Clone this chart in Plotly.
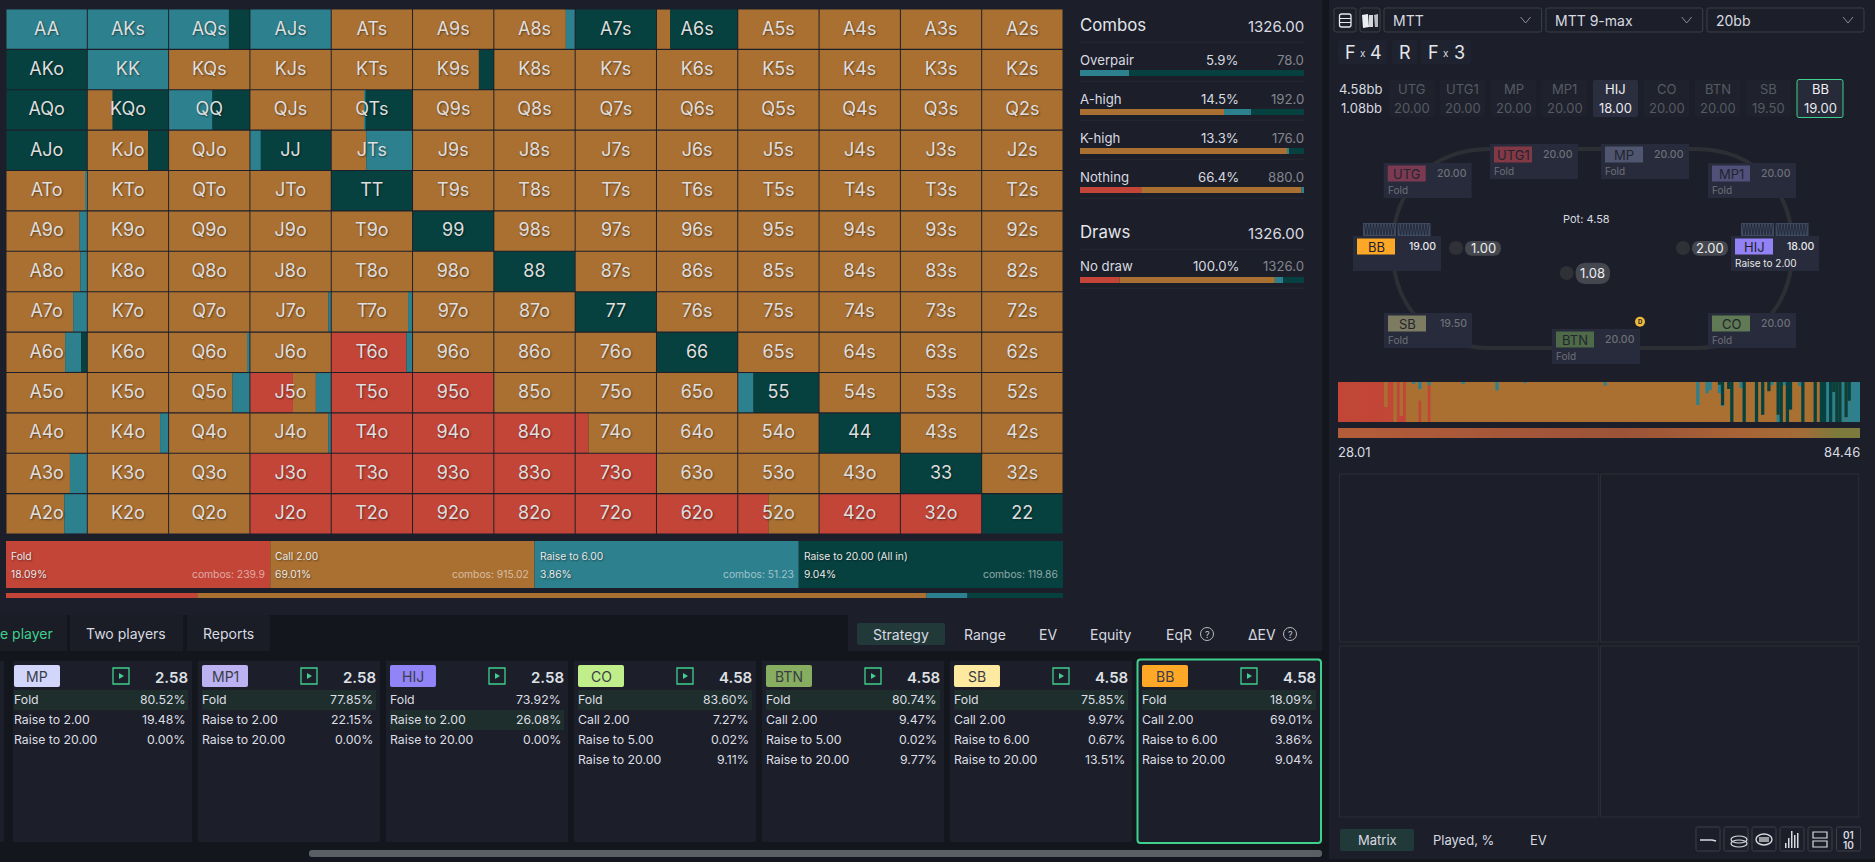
import plotly.graph_objects as go

# ---------- DATA ----------
ranks = ["A", "K", "Q", "J", "T", "9", "8", "7", "6", "5", "4", "3", "2"]
# strategy matrix, percentages per hand (call = remainder)
m_fold = [
    [0,0,0,0,0,0,0,0,0,0,0,0,0],
    [0,0,0,0,0,0,0,0,0,0,0,0,0],
    [0,0,0,0,0,0,0,0,0,0,0,0,0],
    [0,0,0,0,0,0,0,0,0,0,0,0,0],
    [0,0,0,0,0,0,0,0,0,0,0,0,0],
    [0,0,0,0,0,0,0,0,0,0,0,0,0],
    [0,0,0,0,0,0,0,0,0,0,0,0,0],
    [0,0,0,0,0,0,0,0,0,0,0,0,0],
    [0,0,0,0,93,0,0,0,0,0,0,0,0],
    [0,0,0,53,100,100,0,0,0,0,0,0,0],
    [0,0,0,0,100,100,100,16,0,0,0,0,0],
    [0,0,0,100,100,100,100,100,0,0,0,0,0],
    [0,0,0,100,100,100,100,100,100,37.5,100,100,0],
]
m_r6 = [
    [100,100,74.5,100,0,0,11,0,0,0,0,0,0],
    [0,100,0,0,0,0,0,0,0,0,0,0,0],
    [0,0,54,0,1,0,0,0,0,0,0,0,0],
    [0,0,0,13,57,0,0,0,0,0,0,0,0],
    [2,0,0,0,0,0,0,0,0,0,0,0,0],
    [9,0,0,0,0,0,0,0,0,0,0,0,0],
    [8,0,0,0,0,0,0,0,0,0,0,0,0],
    [17,0,0,3,5,0,0,0,0,0,0,0,0],
    [20,0,2,0,7,0,0,0,0,0,0,0,0],
    [0,0,21,18.5,0,0,0,0,0,19,0,0,0],
    [0,10,0,3,0,0,0,0,0,0,0,0,0],
    [21,0,0,0,0,0,0,0,0,0,0,0,0],
    [28,0,0,0,0,0,0,0,0,0,0,0,0],
]
m_r20 = [
    [0,0,25.5,0,0,0,0,100,83.5,0,0,0,0],
    [100,0,0,0,0,18,0,0,0,0,0,0,0],
    [100,69,46,0,58,0,0,0,0,0,0,0,0],
    [100,25,0,87,0,0,0,0,0,0,0,0,0],
    [0,0,0,0,100,0,0,0,0,0,0,0,0],
    [0,0,0,0,0,100,0,0,0,0,0,0,0],
    [0,0,0,0,0,0,100,0,0,0,0,0,0],
    [0,0,0,0,0,0,0,100,0,0,0,0,0],
    [7,0,0,0,0,0,0,0,100,0,0,0,0],
    [0,0,0,0,0,0,0,0,0,81,0,0,0],
    [0,0,0,0,0,0,0,0,0,0,100,0,0],
    [0,0,0,0,0,0,0,0,0,0,0,100,0],
    [0,0,0,0,0,0,0,0,0,0,0,0,100],
]
actions = ["Fold", "Call 2.00", "Raise to 6.00", "Raise to 20.00 (All in)"]
action_pct = [18.09, 69.01, 3.86, 9.04]
action_combos = ["239.9", "915.02", "51.23", "119.86"]
tile_share = [1, 1, 1, 1]

combo_labels = ["Overpair", "A-high", "K-high", "Nothing", "No draw"]
combo_pct = ["5.9%", "14.5%", "13.3%", "66.4%", "100.0%"]
combo_cnt = ["78.0", "192.0", "176.0", "880.0", "1326.0"]
combo_fold = [0, 0, 0, 27.3, 17.7]
combo_call = [0, 64.3, 92.4, 71.6, 69.3]
combo_r6 = [22, 12.1, 0.9, 1.1, 3.7]
combo_r20 = [78, 23.6, 6.7, 0, 9.3]

# sorted hands strip (169 hands), percentages (call = remainder)
strip_fold = [
    100,100,100,100,100,100,100,100,100,100,100,100,100,
    100,100,37.5,100,100,0,100,16,100,0,0,0,0,
    54,0,0,92,0,0,0,0,0,0,0,0,0,
    0,0,0,0,0,0,0,0,0,0,0,0,0,
    0,0,0,0,0,0,0,0,0,0,0,0,0,
    0,0,0,0,0,0,0,0,0,0,0,0,0,
    0,0,0,0,0,0,0,0,0,0,0,0,0,
    0,0,0,0,0,0,0,0,0,0,0,0,0,
    0,0,0,0,0,0,0,0,0,0,0,0,0,
    0,0,0,0,0,0,0,0,0,0,0,0,0,
    0,0,0,0,0,0,0,0,0,0,0,0,0,
    0,0,0,0,0,0,0,0,0,0,0,0,0,
    0,0,0,0,0,0,0,0,0,0,0,0,0,
]
strip_r6 = [
    0,0,0,0,0,0,0,0,0,0,0,0,0,
    0,0,0,0,0,0,0,0,0,0,0,3,0,
    17.5,0,0,8,0,0,0,0,0,0,0,0,0,
    0,3,0,0,0,0,0,0,0,0,0,0,21,
    0,0,0,0,0,0,0,0,2,0,0,0,0,
    0,0,0,0,0,0,0,0,0,0,0,0,0,
    0,0,0,0,0,0,0,0,9,0,0,0,0,
    0,0,0,0,0,0,0,0,0,0,0,0,0,
    0,0,0,0,0,0,0,0,0,0,0,0,57.5,
    0,0,28,20,0,0,21,2,0,0,0,0,0,
    15,0,0,0,0,0,0,0,0,0,8,0,18,
    0,8,0,0,0,0,10,0,0,0,0,0,0,
    0,0,100,0,75,0,0,100,12,53,100,100,100,
]
strip_r20 = [
    0,0,0,0,0,0,0,0,0,0,0,0,0,
    0,0,0,0,0,0,0,0,0,0,0,0,0,
    0,0,0,0,0,0,0,0,0,0,0,0,0,
    0,0,0,0,0,0,0,0,0,0,0,0,0,
    0,0,0,0,0,0,0,0,0,0,0,0,0,
    0,0,0,0,0,0,0,0,0,0,0,0,0,
    0,0,0,0,0,0,0,0,0,0,0,0,0,
    0,0,0,0,0,0,0,0,0,0,0,0,0,
    0,0,0,0,0,0,0,0,0,0,0,0,0,
    0,0,0,0,0,0,7,58,0,17.5,100,0,0,
    0,100,0,0,0,100,0,82,0,23,0,0,82,
    100,0,100,69,0,0,0,100,0,0,0,100,0,
    100,100,0,100,25,100,100,0,88,47,0,0,0,
]
gradient_z = [28.01, 33.66, 39.3, 44.95, 50.6, 56.24, 61.89, 67.53, 73.18, 78.82, 84.46]

cards = ["MP", "MP1", "HIJ", "CO", "BTN", "SB", "BB"]
card_pots = ["2.58", "2.58", "2.58", "4.58", "4.58", "4.58", "4.58"]
card_actions = [
    ["Fold", "Raise to 2.00", "Raise to 20.00"],
    ["Fold", "Raise to 2.00", "Raise to 20.00"],
    ["Fold", "Raise to 2.00", "Raise to 20.00"],
    ["Fold", "Call 2.00", "Raise to 5.00", "Raise to 20.00"],
    ["Fold", "Call 2.00", "Raise to 5.00", "Raise to 20.00"],
    ["Fold", "Call 2.00", "Raise to 6.00", "Raise to 20.00"],
    ["Fold", "Call 2.00", "Raise to 6.00", "Raise to 20.00"],
]
card_values = [
    ["80.52%", "19.48%", "0.00%"],
    ["77.85%", "22.15%", "0.00%"],
    ["73.92%", "26.08%", "0.00%"],
    ["83.60%", "7.27%", "0.02%", "9.11%"],
    ["80.74%", "9.47%", "0.02%", "9.77%"],
    ["75.85%", "9.97%", "0.67%", "13.51%"],
    ["18.09%", "69.01%", "3.86%", "9.04%"],
]
stack_seats = ["UTG", "UTG1", "MP", "MP1", "HIJ", "CO", "BTN", "SB", "BB"]
stack_values = ["20.00", "20.00", "20.00", "20.00", "18.00", "20.00", "20.00", "19.50", "19.00"]

# ---------- STYLE ----------
W, H = 1875, 862
FONT = "Inter"
BG = "#1c1f2a"
DARK = "#14161e"
RED, ORANGE, TEAL, DEEP = "#c24538", "#aa7032", "#2d808d", "#07413f"
ACTION_COLORS = [RED, ORANGE, TEAL, DEEP]
GREEN = "#3fd08e"
SHADOW = "1px 1px 2px rgba(0,0,0,0.45)"
fig = go.Figure()
shapes, annots, axes = [], [], {}


def X(x):
    return x / W


def Y(y):
    return 1 - y / H


def rect(x0, y0, x1, y1, fill=None, line=None, lw=1, layer="below"):
    shapes.append(dict(type="rect", xref="paper", yref="paper", x0=X(x0), x1=X(x1), y0=Y(y0), y1=Y(y1),
                       fillcolor=fill or "rgba(0,0,0,0)",
                       line=dict(color=line or "rgba(0,0,0,0)", width=lw if line else 0), layer=layer))


def path(points, line=None, lw=1, fill=None, layer="below"):
    parts = []
    for p in points:
        if isinstance(p, str):
            parts.append(p)
        else:
            parts.append(f"{X(p[0]):.5f},{Y(p[1]):.5f}")
    shapes.append(dict(type="path", xref="paper", yref="paper", path=" ".join(parts),
                       fillcolor=fill or "rgba(0,0,0,0)",
                       line=dict(color=line or "rgba(0,0,0,0)", width=lw if line else 0), layer=layer))


def rrect(x0, y0, x1, y1, r, fill=None, line=None, lw=1, layer="below"):
    path(["M", (x0 + r, y0), "L", (x1 - r, y0), "Q", (x1, y0), (x1, y0 + r), "L", (x1, y1 - r), "Q", (x1, y1),
          (x1 - r, y1), "L", (x0 + r, y1), "Q", (x0, y1), (x0, y1 - r), "L", (x0, y0 + r), "Q", (x0, y0),
          (x0 + r, y0), "Z"], line=line, lw=lw, fill=fill, layer=layer)


def circle(cx, cy, r, fill=None, line=None, lw=1, layer="below"):
    shapes.append(dict(type="circle", xref="paper", yref="paper", x0=X(cx - r), x1=X(cx + r), y0=Y(cy - r),
                       y1=Y(cy + r), fillcolor=fill or "rgba(0,0,0,0)",
                       line=dict(color=line or "rgba(0,0,0,0)", width=lw if line else 0), layer=layer))


def text(x, y, s, size=12, color="#d8dae0", anchor="left", weight=400, shadow=None):
    f = dict(family=FONT, size=size, color=color, weight=weight)
    if shadow:
        f["shadow"] = shadow
    annots.append(dict(xref="paper", yref="paper", x=X(x), y=Y(y), text=s, showarrow=False, xanchor=anchor,
                       yanchor="middle", font=f, borderpad=0, borderwidth=0))


def panel_axes(n, x0, y0, x1, y1, xr, yr):
    sfx = "" if n == 1 else str(n)
    axes[f"xaxis{sfx}"] = dict(domain=[X(x0), X(x1)], range=xr, visible=False, fixedrange=True, anchor=f"y{sfx}")
    axes[f"yaxis{sfx}"] = dict(domain=[Y(y1), Y(y0)], range=yr, visible=False, fixedrange=True, anchor=f"x{sfx}")
    return f"x{sfx}", f"y{sfx}"


def hbars(xa, ya, rows, bases, widths, colors, thick=1.0):
    fig.add_trace(go.Bar(orientation="h", x=widths, y=rows, base=bases, width=thick, xaxis=xa, yaxis=ya,
                         marker=dict(color=colors, line=dict(width=0)), hoverinfo="skip", showlegend=False))


# ---------- BACKGROUND BLOCKS ----------
rect(0, 615, 1322, 862, DARK)
rect(1322, 0, 1329, 862, DARK)
rect(1329, 859, 1875, 862, DARK)
rect(0, 615, 67, 651, "#1a1d26")
rect(70, 615, 183, 651, "#1a1d26")
rect(187, 615, 270, 651, "#1a1d26")
rect(848, 615, 1322, 651, BG)

# ---------- MATRIX ----------
xa, ya = panel_axes(1, 6, 9, 1063, 534, [0, 13], [12.5, -0.5])
INSET = 0.006
seg_y, seg_base, seg_w, seg_c = [], [], [], []
labels, lab_x, lab_y = [], [], []
for r in range(13):
    for c in range(13):
        call = 100 - m_fold[r][c] - m_r6[r][c] - m_r20[r][c]
        cum = 0.0
        for val, col in zip([m_fold[r][c], call, m_r6[r][c], m_r20[r][c]], ACTION_COLORS):
            if val > 0:
                seg_y.append(r)
                seg_base.append(c + INSET + cum / 100 * (1 - 2 * INSET))
                seg_w.append(val / 100 * (1 - 2 * INSET))
                seg_c.append(col)
                cum += val
        if r == c:
            labels.append(ranks[r] * 2)
        elif c > r:
            labels.append(ranks[r] + ranks[c] + "s")
        else:
            labels.append(ranks[c] + ranks[r] + "o")
        lab_x.append(c + 0.5)
        lab_y.append(r + 0.02)
hbars(xa, ya, seg_y, seg_base, seg_w, seg_c, thick=0.972)
fig.add_trace(go.Scatter(x=lab_x, y=lab_y, text=labels, mode="text", textposition="middle center", xaxis=xa, yaxis=ya,
                         textfont=dict(family=FONT, size=18, color="#dedede", shadow=SHADOW),
                         hoverinfo="skip", showlegend=False))

# ---------- ACTION TILES ----------
xa, ya = panel_axes(2, 6, 541, 1063, 588, [0, sum(tile_share)], [-0.5, 0.5])
cum = 0
bases = []
for v in tile_share:
    bases.append(cum)
    cum += v
hbars(xa, ya, [0] * 4, bases, tile_share, ACTION_COLORS)
tile_x0 = [6, 270, 535, 799]
tile_x1 = [265, 529, 794, 1058]
for i in range(4):
    text(tile_x0[i] + 5, 555.7, actions[i], 10.3, "#e8e8e8", shadow=SHADOW)
    text(tile_x0[i] + 5, 573.7, f"{action_pct[i]:.2f}%", 10.3, "#e8e8e8", shadow=SHADOW)
    text(tile_x1[i], 573.7, "combos: " + action_combos[i], 10.3, "rgba(255,255,255,0.55)", anchor="right")

xa, ya = panel_axes(3, 6, 593, 1063, 598, [0, 100], [-0.5, 0.5])
cum = 0
bases = []
for v in action_pct:
    bases.append(cum)
    cum += v
hbars(xa, ya, [0] * 4, bases, action_pct, ACTION_COLORS)

# ---------- COMBOS PANEL ----------
text(1080, 25, "Combos", 16.8, "#e4e6ea")
text(1304, 26, "1326.00", 15, "#d8dae0", anchor="right")
text(1080, 232, "Draws", 16.8, "#e4e6ea")
text(1304, 233, "1326.00", 15, "#d8dae0", anchor="right")
for sy in [42.3, 81.3, 120.3, 159.3, 198.3, 249.3, 288.3]:
    rect(1080, sy - 0.5, 1304, sy + 0.5, "#262935")
combo_text_y = [59.8, 98.8, 137.8, 176.8, 266.5]
combo_bar_y = [70, 109, 148, 187, 277]
for i in range(5):
    text(1080, combo_text_y[i], combo_labels[i], 13.2, "#d8dae0")
    text(1238.6, combo_text_y[i], combo_pct[i], 13.2, "#d8dae0", anchor="right")
    text(1304, combo_text_y[i], combo_cnt[i], 13.2, "#83868e", anchor="right")
    xa, ya = panel_axes(10 + i, 1080, combo_bar_y[i], 1304, combo_bar_y[i] + 6, [0, 100], [-0.5, 0.5])
    cum = 0
    b, w, col = [], [], []
    for v, cc in zip([combo_fold[i], combo_call[i], combo_r6[i], combo_r20[i]], ACTION_COLORS):
        if v > 0:
            b.append(cum)
            w.append(v)
            col.append(cc)
            cum += v
    hbars(xa, ya, [0] * len(b), b, w, col)

# ---------- BOTTOM TABS ----------
text(0, 633, "e player", 14, GREEN)
text(126.5, 633, "Two players", 14, "#d8dae0", anchor="center")
text(228.5, 633, "Reports", 14, "#d8dae0", anchor="center")
rrect(857, 623, 945, 645, 2, "#22393a")
for cx, s in [(901, "Strategy"), (984.5, "Range"), (1048, "EV"), (1111, "Equity"), (1179, "EqR"), (1262, "ΔEV")]:
    text(cx, 634, s, 14, "#d8dae0", anchor="center")
for cx in [1207, 1290]:
    circle(cx, 634, 6.5, None, "#b8bac0", 1)
    text(cx, 634, "?", 9, "#c8cad0", anchor="center")

# ---------- CARDS ----------
card_x0 = [13, 198, 386, 574, 762, 950, 1138]
card_x1 = [192, 380, 568, 756, 944, 1132, 1320]
label_x = [14, 202, 390, 578, 766, 954, 1142]
label_col = ["#d2d6fb", "#bcb2f2", "#9184f9", "#c0ee8a", "#86ad60", "#fde99f", "#ffa726"]
active_row = [0, 0, 1, 0, 0, 0, 0]
rect(0, 661, 4, 842, BG)
for i, name in enumerate(cards):
    rect(card_x0[i], 661, card_x1[i], 842, BG)
    if name == "BB":
        rrect(1137.5, 659.5, 1321, 843, 3, BG, GREEN, 2)
    rrect(label_x[i], 665, label_x[i] + 46, 687, 2, label_col[i])
    text(label_x[i] + 23, 676.5, name, 14, "#3a3d46", anchor="center")
    px = label_x[i] + 99
    rect(px, 668, px + 16, 684, None, GREEN, 1.3)
    path(["M", (px + 6, 673), "L", (px + 11, 676), "L", (px + 6, 679), "Z"], fill=GREEN)
    vr = card_x1[i] - 4.5
    text(vr, 677, card_pots[i], 15, "#dfe1e5", anchor="right", weight=600)
    rect(label_x[i], 690 + 20 * active_row[i], vr + 0.5, 710 + 20 * active_row[i], "#1e2e2d")
    for j, (a, v) in enumerate(zip(card_actions[i], card_values[i])):
        text(label_x[i], 699 + 20 * j, a, 12.3, "#dcdee3")
        text(vr - 2.5, 699 + 20 * j, v, 12.3, "#dcdee3", anchor="right")
rrect(309, 850, 1322, 857, 3, "#5a5f67")

# ---------- RIGHT TOP CONTROLS ----------
BORDER = "#3c3f46"
rrect(1334, 8, 1356, 32, 2, None, BORDER)
rrect(1339.5, 14, 1351, 27, 2, None, "#e6e8ec", 1.3)
rect(1340, 18, 1351, 19, "#e6e8ec")
rect(1340, 22, 1351, 23, "#e6e8ec")
rrect(1360, 8, 1380, 32, 2, None, BORDER)
path(["M", (1362, 15), "L", (1368, 14), "L", (1369, 27), "L", (1363, 28), "Z"], fill="#eceef2")
path(["M", (1369, 15), "L", (1373, 15), "L", (1373, 27), "L", (1369, 27), "Z"], fill="#d5d7dc")
path(["M", (1374, 15), "L", (1378, 14), "L", (1378, 27), "L", (1375, 27), "Z"], fill="#b8bac0")
for x0, x1, s in [(1384, 1541.6, "MTT"), (1546, 1702.7, "MTT 9-max"), (1707, 1864, "20bb")]:
    rrect(x0, 8, x1, 32, 2, None, BORDER)
    text(x0 + 8.5, 20, s, 14, "#d8dae0")
    path(["M", (x1 - 21, 17), "L", (x1 - 16, 23), "L", (x1 - 11, 17)], line="#8b8e95", lw=1)
for x0, x1 in [(1338, 1387), (1392, 1417), (1421, 1471)]:
    rrect(x0, 40, x1, 64, 2, "#1f2330")
text(1350, 52, "F", 18, "#e4e6ea", anchor="center")
text(1363, 53, "x", 10, "#d8dae0", anchor="center")
text(1376, 52, "4", 18, "#e4e6ea", anchor="center")
text(1405, 52, "R", 18, "#e4e6ea", anchor="center")
text(1433, 52, "F", 18, "#e4e6ea", anchor="center")
text(1446, 53, "x", 10, "#d8dae0", anchor="center")
text(1459, 52, "3", 18, "#e4e6ea", anchor="center")
text(1382, 88.7, "4.58bb", 13, "#d8dae0", anchor="right")
text(1382, 107.7, "1.08bb", 13, "#d8dae0", anchor="right")
stack_x0 = [1389, 1440, 1491, 1542, 1593, 1644, 1695, 1746, 1797]
for i, s in enumerate(stack_seats):
    x0 = stack_x0[i]
    on = s in ("HIJ", "BB")
    x1 = x0 + (46 if s == "BB" else 45)
    if s == "BB":
        rrect(x0, 79.5, x1, 117.5, 2, "#262a39", GREEN, 1)
    else:
        rrect(x0, 80, x1, 117, 2, "#2a2e3f" if on else "#1f222d")
    cx = (x0 + x1) / 2
    text(cx, 88.7, s, 13, "#f0f1f3" if on else "#565a62", anchor="center")
    text(cx, 107.7, stack_values[i], 13, "#e8e9ec" if on else "#565a62", anchor="center")

# ---------- TABLE ----------
path(["M", (1490, 149), "L", (1695, 149), "C", (1755, 149), (1792.6, 190), (1792.6, 248), "C", (1792.6, 306), (1755, 348),
      (1695, 348), "L", (1490, 348), "C", (1430, 348), (1392.6, 306), (1392.6, 248), "C", (1392.6, 190), (1430, 149),
      (1490, 149), "Z"], line="#2e2f34", lw=4)
for x0 in [1363, 1397.5, 1741, 1775.5]:
    rect(x0, 223, x0 + 33, 236, "#3d4a60")
    zig = ["M", (x0 + 1.5, 224)]
    k = 0
    while k < 10:
        zig += ["L", (x0 + 1.5 + k * 3 + 1.5, 235), "L", (x0 + 1.5 + k * 3 + 3, 224)]
        k += 1
    path(zig, line="#1f2533", lw=0.8)
seats = [
    ("UTG", 1383.7, 163, "20.00", "Fold", "#7c3a52", False),
    ("UTG1", 1490, 144, "20.00", "Fold", "#823845", False),
    ("MP", 1601, 144, "20.00", "Fold", "#50566f", False),
    ("MP1", 1708, 163, "20.00", "Fold", "#50507a", False),
    ("BB", 1353, 236, "19.00", "", "#ffa726", True),
    ("HIJ", 1731, 236, "18.00", "Raise to 2.00", "#9382f5", True),
    ("SB", 1384, 313, "19.50", "Fold", "#7d7b62", False),
    ("BTN", 1552, 329, "20.00", "Fold", "#4e6a48", False),
    ("CO", 1708, 313, "20.00", "Fold", "#5f7a54", False),
]
for name, x0, y0, st, act, col, on in seats:
    rect(x0, y0, x0 + 88, y0 + 35, "#282b3b")
    rect(x0 + 4, y0 + 2.5, x0 + 42, y0 + 18.5, col)
    text(x0 + 23, y0 + 10.5, name, 13, "#1c1f2a" if on else "#23252f", anchor="center")
    text(x0 + 83, y0 + 10.5, st, 10.5, "#e6e7ea" if on else "#6d7079", anchor="right", weight=500)
    if act:
        text(x0 + 4, y0 + 27, act, 10, "#e6e7ea" if on else "#6d7079")
text(1586, 219, "Pot: 4.58", 11, "#d8dae0", anchor="center")
for cx, cy, r, x0, x1, py0, py1, s, sz in [
    (1456, 248, 7, 1465, 1501, 241, 255.7, "1.00", 13),
    (1683, 248, 7, 1692, 1728, 241, 255.7, "2.00", 13),
    (1566.7, 273, 7, 1575.6, 1610, 262.7, 284, "1.08", 13),
]:
    circle(cx, cy, r, "#2f3136")
    rrect(x0, py0, x1, py1, (py1 - py0) / 2, "#45474f")
    text((x0 + x1) / 2, (py0 + py1) / 2, s, sz, "#eceef0", anchor="center")
circle(1640, 321.7, 5, "#f0b93a")
text(1640, 321.7, "D", 6, "#1c1f2a", anchor="center", weight=700)

# ---------- SORTED HANDS STRIP ----------
rect(1338, 382, 1860, 422, ORANGE)  # backing panel so column seams stay invisible
xa, ya = panel_axes(30, 1338, 382, 1860, 422, [-0.5, len(strip_fold) - 0.5], [0, 100])
idx = list(range(len(strip_fold)))
strip_call = [100 - a - b - c for a, b, c in zip(strip_fold, strip_r6, strip_r20)]
cum = [0] * len(idx)
for vals, col in zip([strip_fold, strip_call, strip_r6, strip_r20], ACTION_COLORS):
    keep = [i for i in idx if vals[i] > 0]
    fig.add_trace(go.Bar(x=keep, y=[vals[i] for i in keep], base=[cum[i] for i in keep], width=1.06, xaxis=xa, yaxis=ya,
                         hoverinfo="skip", marker=dict(color=col, line=dict(width=0)), showlegend=False))
    cum = [a + b for a, b in zip(cum, vals)]

xa, ya = panel_axes(31, 1338, 428, 1860, 438, [-0.5, len(gradient_z) - 0.5], [-0.5, 0.5])
fig.add_trace(go.Heatmap(z=[gradient_z], xaxis=xa, yaxis=ya, zsmooth="best", showscale=False, hoverinfo="skip",
                         zmin=gradient_z[0], zmax=gradient_z[-1],
                         colorscale=[[0, "#b25c3a"], [0.55, "#9c5338"], [0.8, "#a86436"], [0.93, "#a26c38"], [1, "#7c7a3c"]]))
text(1338, 452, "28.01", 13, "#d8dae0")
text(1860, 452, "84.46", 13, "#d8dae0", anchor="right")

# ---------- 2x2 EMPTY GRID + BOTTOM ----------
for x0, x1 in [(1339.5, 1598.6), (1600.5, 1858.8)]:
    for y0, y1 in [(474, 642), (646, 817)]:
        rect(x0, y0, x1, y1, None, "#2a2d35", 1)
rrect(1340, 829, 1414, 851, 2, "#22393a")
for cx, s in [(1377, "Matrix"), (1463, "Played, %"), (1538, "EV")]:
    text(cx, 840, s, 13, "#d8dae0", anchor="center")
icon_x = [1696, 1724, 1752, 1780, 1808, 1836.5]
for x0 in icon_x:
    rrect(x0, 827, x0 + 24, 851, 1.5, None, "#3c3f46")
C = "#d8dae0"
path(["M", (1700, 840), "L", (1712, 840), "L", (1716, 841)], line=C, lw=1.5)
for dy in (0, 4):
    shapes.append(dict(type="circle", xref="paper", yref="paper", x0=X(1731), x1=X(1747), y0=Y(836 + dy), y1=Y(843 + dy),
                       line=dict(color=C, width=1.2), fillcolor="rgba(0,0,0,0)", layer="below"))
shapes.append(dict(type="circle", xref="paper", yref="paper", x0=X(1756), x1=X(1772), y0=Y(834), y1=Y(845),
                   line=dict(color=C, width=1.4), fillcolor="rgba(0,0,0,0)", layer="below"))
rect(1759, 837, 1769, 842, "#9a9ca2")
for k, top in enumerate([843, 838, 831, 835, 833]):
    rect(1785 + k * 3, top, 1786.5 + k * 3, 848, C)
rect(1813, 832, 1827, 838, None, C, 1.2)
rect(1813, 841, 1827, 847, None, C, 1.2)
text(1848.5, 834.5, "01", 10, C, anchor="center", weight=600)
text(1848.5, 844.5, "10", 10, C, anchor="center", weight=600)

# ---------- LAYOUT ----------
fig.update_layout(width=W, height=H, autosize=False, margin=dict(l=0, r=0, t=0, b=0), paper_bgcolor=BG,
                  plot_bgcolor="rgba(0,0,0,0)", barmode="overlay", showlegend=False, shapes=shapes,
                  annotations=annots, font=dict(family=FONT), hovermode=False, **axes)
fig.write_html("out.html", config=dict(displayModeBar=False),
               post_script="document.body.style.margin='0';document.body.style.background='#1c1f2a';"
                           "document.documentElement.style.overflow='hidden';")
